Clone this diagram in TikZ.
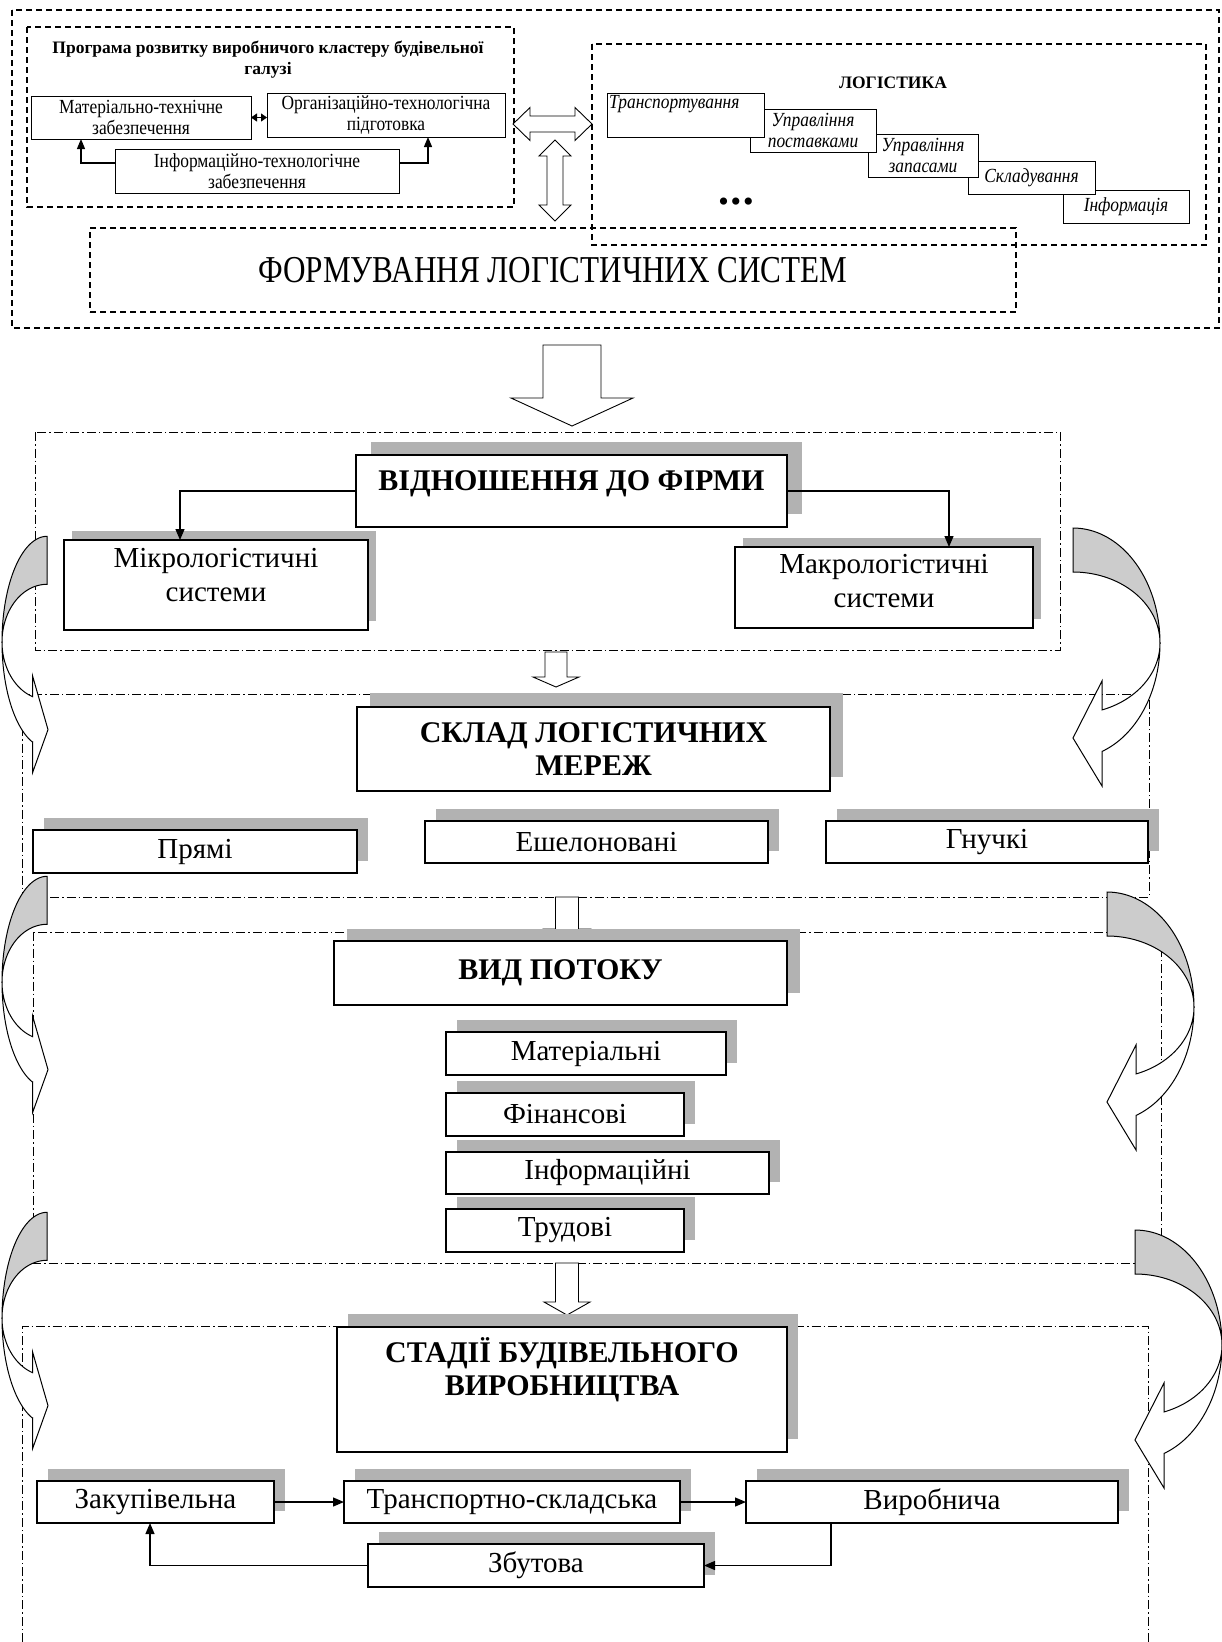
\documentclass[tikz,border=0pt]{standalone}
\usepackage{fontspec}
\setmainfont{Liberation Serif}
\newfontfamily\condfont[FakeStretch=0.82]{Liberation Serif}
\newfontfamily\tcond[FakeStretch=0.87]{Liberation Serif}
\usetikzlibrary{shadows,arrows.meta,calc}
\definecolor{shgray}{gray}{0.70}
\definecolor{cresc}{gray}{0.80}
\tikzset{
  dashedbox/.style={draw, line width=1.5pt, dash pattern=on 6pt off 4pt},
  frame/.style={draw, line width=1pt, dash pattern=on 9pt off 3pt on 1.5pt off 3pt},
  small/.style={draw, line width=1pt, fill=white, inner sep=0pt, outer sep=0pt, align=center, font=\fontsize{20}{21.5}\selectfont\tcond},
  stairbox/.style={small, font=\fontsize{20}{21.5}\selectfont\tcond\itshape},
  mainbox/.style={draw, line width=1.8pt, fill=white, inner sep=0pt, outer sep=0pt, align=center, font=\fontsize{29}{34}\selectfont},
  headbox/.style={mainbox, font=\fontsize{30}{33}\selectfont\bfseries},
  shd/.style 2 args={general shadow={fill=shgray, shadow xshift=#1, shadow yshift=#2}},
  sh/.style={shd={11pt}{12pt}},
  hlab/.style={font=\fontsize{30}{33}\selectfont\bfseries, align=center, inner sep=0pt},
  rlab/.style={font=\fontsize{29}{34}\selectfont, align=center, inner sep=0pt},
  blk/.style={draw, fill=white, line width=0.9pt, line join=miter},
  con/.style={draw, line width=1.3pt, -{Triangle[length=11pt,width=9pt]}},
  scon/.style={draw, line width=1.2pt, -{Triangle[length=10pt,width=8pt]}},
  curvl/.pic={
    \draw[line width=1pt, fill=cresc] plot[domain=270:180, samples=40] ({45*cos(\x)},{105.7*sin(\x)}) -- plot[domain=180:270, samples=40] ({45*cos(\x)},{57.7*sin(\x)}) -- cycle;
    \draw[line width=1pt, fill=white, line join=miter] plot[domain=180:108.7, samples=40] ({45*cos(\x)},{57.7*sin(\x)}) -- (-14.4,34) -- (1,87.6) -- (-14.4,130.6) -- (-14.4,100.1) -- plot[domain=108.7:180, samples=40] ({45*cos(\x)},{105.7*sin(\x)}) -- cycle;
  },
  curvr/.pic={
    \draw[line width=1pt, fill=cresc] plot[domain=270:360, samples=40] ({87*cos(\x)},{115*sin(\x)}) -- plot[domain=360:270, samples=40] ({87*cos(\x)},{71*sin(\x)}) -- cycle;
    \draw[line width=1pt, fill=white, line join=miter] plot[domain=0:70.5, samples=40] ({87*cos(\x)},{71*sin(\x)}) -- (29,38) -- (0,95) -- (29,143) -- (29,108.4) -- plot[domain=70.5:0, samples=40] ({87*cos(\x)},{115*sin(\x)}) -- cycle;
  }
}
\begin{document}
\begin{tikzpicture}[x=1pt,y=-1pt]
\useasboundingbox (0,0) rectangle (1222,1642);
\fill[white] (0,0) rectangle (1222,1642);

% ---------- top part ----------
\draw[dashedbox] (12,10) rectangle (1219,328);
\draw[dashedbox] (27,27) rectangle (514,207);
\draw[dashedbox] (592,44) rectangle (1206,245);
\node[draw, line width=1.5pt, dash pattern=on 6pt off 4pt, inner sep=0pt, minimum width=926pt, minimum height=84pt, font=\fontsize{38}{40}\selectfont\condfont] (form) at (553,270) {ФОРМУВАННЯ ЛОГІСТИЧНИХ СИСТЕМ};

\node[font=\fontsize{17.5}{21}\selectfont\bfseries, align=center] (title) at (268,59.5) {Програма розвитку виробничого кластеру будівельної\\галузі};
\node[small, minimum width=220pt, minimum height=43pt] (mat) at (141,117.5) {Матеріально-технічне\\забезпечення};
\node[small, minimum width=238pt, minimum height=44pt] (org) at (386,115) {Організаційно-технологічна\\підготовка};
\node[small, minimum width=284pt, minimum height=44pt] (info) at (257,171) {Інформаційно-технологічне\\забезпечення};
\draw[line width=1pt, {Triangle[length=6pt,width=8pt]}-{Triangle[length=6pt,width=8pt]}] (mat.east) -- (mat.east -| org.west);
\draw[scon] ([yshift=8pt]info.west) -| ([xshift=50pt]mat.south west);
\draw[scon] ([yshift=8pt]info.east) -| ([xshift=-77pt]org.south east);

\node[font=\fontsize{17.5}{21}\selectfont\bfseries] (logt) at (893,83) {ЛОГІСТИКА};
\node[stairbox, minimum width=126pt, minimum height=33pt] (inf) at (1126,206.5) {Інформація};
\node[stairbox, minimum width=127pt, minimum height=33pt] (skl) at (1031.5,177.5) {Складування};
\node[stairbox, minimum width=110pt, minimum height=43pt] (upz) at (923,155.5) {Управління\\запасами};
\node[stairbox, minimum width=126pt, minimum height=43pt] (upp) at (813,130.5) {Управління\\поставками};
\node[stairbox, minimum width=157pt, minimum height=44pt, label={[anchor=north west, inner sep=2pt, font=\fontsize{20}{21.5}\selectfont\tcond\itshape]north west:Транспортування}] (tr) at (685.5,115) {};
\node[font=\fontsize{30}{30}\selectfont] (dots) at (736,205) {•\kern2pt•\kern2pt•};

% double block arrows
\draw[blk] (513,124) -- (530,107.5) -- (530,116) -- (575,116) -- (575,107.5) -- (592,124) -- (575,140.5) -- (575,132) -- (530,132) -- (530,140.5) -- cycle;
\draw[blk] (555,140) -- (571,156) -- (563,156) -- (563,205) -- (571,205) -- (555,221) -- (539,205) -- (547,205) -- (547,156) -- (539,156) -- cycle;

% big arrow down
\draw[blk] (543,345) -- (601,345) -- (601,398) -- (633,398) -- (572,426) -- (511,398) -- (543,398) -- cycle;

% ---------- frames ----------
\draw[frame] (35,432) rectangle (1060,650);
\draw[frame] (22,694) rectangle (1149,897);
\draw[frame] (33,932) rectangle (1161,1263);
\draw[frame] (22,1642) -- (22,1326) -- (1148,1326) -- (1148,1642);

% ---------- section 1 ----------
\node[mainbox, shd={15pt}{13pt}, minimum width=431pt, minimum height=72pt, label={[hlab, yshift=7pt]center:ВІДНОШЕННЯ ДО ФІРМИ}] (vidn) at (571.5,491) {};
\node[mainbox, shd={8pt}{9pt}, minimum width=304pt, minimum height=90pt, label={[rlab, yshift=10pt]center:{Мікрологістичні\\системи}}] (micro) at (216,585) {};
\node[mainbox, shd={8pt}{9pt}, minimum width=298pt, minimum height=81pt, label={[rlab, yshift=6pt]center:{Макрологістичні\\системи}}] (macro) at (884,587.5) {};
\draw[con] (vidn.west) -| ([xshift=116pt]micro.north west);
\draw[con] (vidn.east) -| ([xshift=214pt]macro.north west);

\draw[blk] (545,652) -- (567,652) -- (567,677) -- (579,677) -- (556,687) -- (533,677) -- (545,677) -- cycle;

% ---------- section 2 ----------
\node[headbox, shd={13pt}{14pt}, minimum width=473pt, minimum height=84pt] (sklad) at (593.5,749) {СКЛАД ЛОГІСТИЧНИХ\\МЕРЕЖ};
\node[mainbox, sh, minimum width=324pt, minimum height=43pt] (pryami) at (195,851.5) {Прямі};
\node[mainbox, sh, minimum width=343pt, minimum height=42pt] (eshel) at (596.5,842) {Ешелоновані};
\node[mainbox, sh, minimum width=322pt, minimum height=42pt] (hnuch) at (987,842) {Гнучкі};

\draw[blk] (555.5,897) -- (578.5,897) -- (578.5,929) -- (590,929) -- (567,942) -- (544,929) -- (555.5,929) -- cycle;

% ---------- section 3 ----------
\node[headbox, shd={13pt}{12pt}, minimum width=453pt, minimum height=64pt] (vyd) at (560.5,973) {ВИД ПОТОКУ};
\node[mainbox, sh, minimum width=280pt, minimum height=43pt] (mater) at (586,1053.5) {Матеріальні};
\node[mainbox, sh, minimum width=238pt, minimum height=43pt] (fin) at (565,1114.5) {Фінансові};
\node[mainbox, sh, minimum width=323pt, minimum height=42pt] (infp) at (607.5,1173) {Інформаційні};
\node[mainbox, sh, minimum width=238pt, minimum height=43pt] (trud) at (565,1230.5) {Трудові};

\draw[blk] (555.5,1263) -- (578.5,1263) -- (578.5,1302) -- (590,1302) -- (567,1315) -- (544,1302) -- (555.5,1302) -- cycle;

% ---------- section 4 ----------
\node[mainbox, shd={11pt}{13pt}, minimum width=450pt, minimum height=125pt, label={[hlab, yshift=20pt]center:{СТАДІЇ БУДІВЕЛЬНОГО\\ВИРОБНИЦТВА}}] (stadii) at (562,1389.5) {};
\node[mainbox, sh, minimum width=237pt, minimum height=42pt] (zakup) at (155.5,1502) {Закупівельна};
\node[mainbox, sh, minimum width=336pt, minimum height=42pt] (trsk) at (512,1502) {Транспортно-складська};
\node[mainbox, sh, minimum width=372pt, minimum height=42pt] (vyrob) at (932,1502) {Виробнича};
\node[mainbox, sh, minimum width=336pt, minimum height=43pt] (zbut) at (536,1565.5) {Збутова};
\draw[con] (zakup) -- (trsk);
\draw[con] (trsk) -- (vyrob);
\draw[con] ([xshift=85pt]vyrob.south west) |- (zbut.east);
\draw[con] (zbut.west) -| ([xshift=113pt]zakup.south west);

% ---------- curved side arrows ----------
\pic at (47,642) {curvl};
\pic at (47,982) {curvl};
\pic at (47,1318) {curvl};
\pic at (1073,643) {curvr};
\pic at (1107,1007) {curvr};
\pic at (1135,1345) {curvr};
\end{tikzpicture}
\end{document}
